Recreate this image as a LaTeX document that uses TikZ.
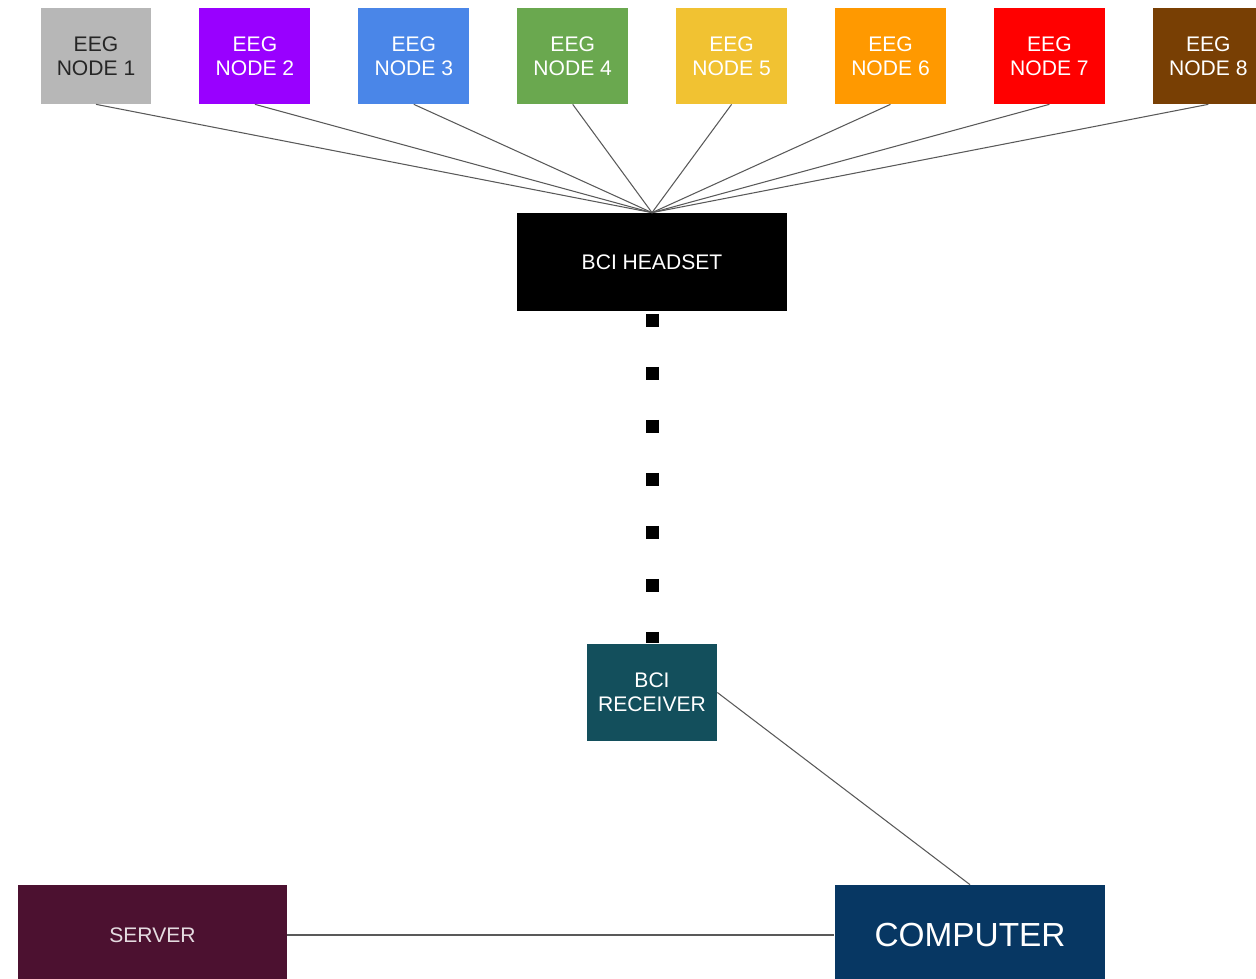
\documentclass[tikz,border=0pt]{standalone}
\usepackage{fontspec}
\setmainfont{Liberation Sans}
\definecolor{eeggray}{HTML}{B7B7B7}
\definecolor{eegpurple}{HTML}{9900FF}
\definecolor{eegblue}{HTML}{4A86E8}
\definecolor{eeggreen}{HTML}{6AA84F}
\definecolor{eegyellow}{HTML}{F1C232}
\definecolor{eegorange}{HTML}{FF9900}
\definecolor{eegred}{HTML}{FF0000}
\definecolor{eegbrown}{HTML}{783F04}
\definecolor{receivercol}{HTML}{134F5C}
\definecolor{servercol}{HTML}{4C1130}
\definecolor{computercol}{HTML}{073763}
\tikzset{
  eegbox/.style={minimum width=2.22cm, minimum height=1.92cm, align=center,
    font=\fontsize{12}{13.6}\selectfont, inner sep=0pt},
  devbox/.style={minimum height=1.96cm, align=center, text=white,
    font=\fontsize{12}{13.6}\selectfont, inner sep=0pt},
  wire/.style={draw=black!65, line width=0.6pt}
}
\begin{document}
\begin{tikzpicture}[x=0.02cm, y=-0.02cm]
            \useasboundingbox (0,0) rectangle (1256,979);
            \clip (0,0) rectangle (1256,979);
            % electrodes along the top
            \foreach \i/\col/\txt in {1/eeggray/black!85, 2/eegpurple/white, 3/eegblue/white,
              4/eeggreen/white, 5/eegyellow/white, 6/eegorange/white, 7/eegred/white, 8/eegbrown/white}
              \node[eegbox, fill=\col, text=\txt] (eeg\i) at ({96+158.9*(\i-1)},56) {EEG\\NODE \i};
            \node[devbox, fill=black, minimum width=5.4cm] (headset) at (652,262) {BCI HEADSET};
            \foreach \i in {1,...,8}
              \draw[wire] (eeg\i.south) -- (headset.north);
            \node[devbox, fill=receivercol, minimum width=2.6cm] (receiver) at (652,692.5) {BCI\\RECEIVER};
            \draw[line width=0.26cm, dash pattern=on 0.26cm off 0.8cm]
              ([yshift=-0.05cm]headset.south) -- (receiver.north);
            \node[devbox, fill=servercol, text=white!85!servercol, minimum width=5.38cm, minimum height=2cm]
              (server) at (152.5,935) {SERVER};
            \node[devbox, fill=computercol, minimum width=5.42cm, minimum height=2cm,
              font=\fontsize{19}{22}\selectfont] (computer) at (970,935) {COMPUTER};
            \draw[wire] (receiver.east) -- (computer.north);
            \draw[wire] (server.east) -- (computer.west);
            \end{tikzpicture}
\end{document}
